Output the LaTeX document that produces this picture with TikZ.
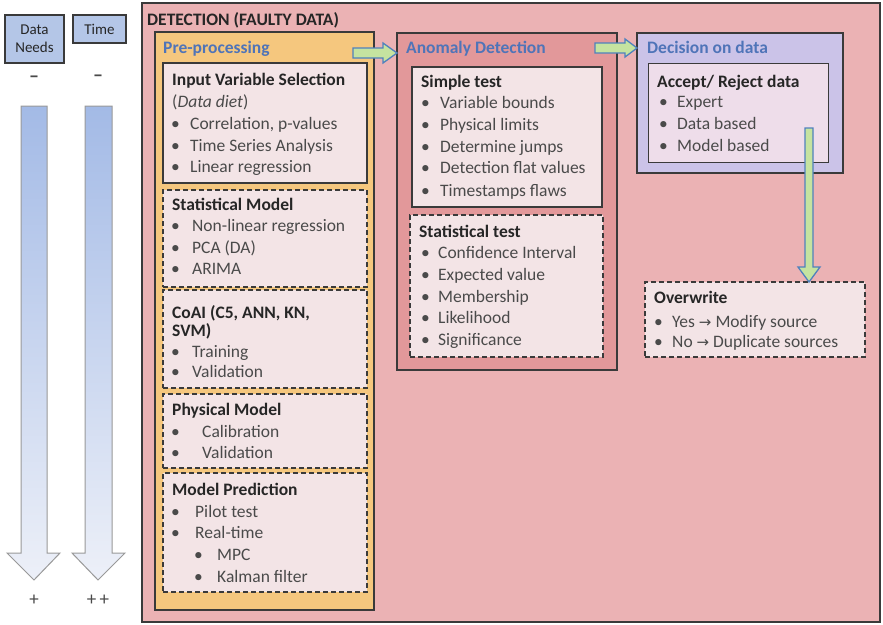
\documentclass[tikz,border=0pt]{standalone}
\usepackage{fontspec}
\setmainfont{Carlito}
\newfontfamily\arrowfont{DejaVu Sans}
\usetikzlibrary{calc}

\definecolor{edge}{HTML}{3A3A3A}
\definecolor{detfill}{HTML}{EBB2B4}
\definecolor{prefill}{HTML}{F5C77E}
\definecolor{anofill}{HTML}{E2989A}
\definecolor{decfill}{HTML}{CBC3E8}
\definecolor{accfill}{HTML}{EEDDEA}
\definecolor{paper}{HTML}{F3E4E6}
\definecolor{ink}{HTML}{262626}
\definecolor{body}{HTML}{4A4A4A}
\definecolor{titleblue}{HTML}{4F74B8}
\definecolor{lbox}{HTML}{B4C6E7}
\definecolor{ltop}{HTML}{A3BAE6}
\definecolor{lbot}{HTML}{EDF0F8}
\definecolor{gfill}{HTML}{C5E3A0}
\definecolor{gedge}{HTML}{4F81BD}

\tikzset{
  x=1pt, y=-1pt,
  box/.style={draw=edge, line width=1.3pt, anchor=north west, inner sep=0pt, outer sep=0pt},
  solidin/.style={box, fill=paper, line width=1.2pt},
  dashin/.style={box, fill=paper, line width=1.3pt, dash pattern=on 5pt off 3pt},
  txt/.style={anchor=base west, inner sep=0pt, yshift=-5.5pt,
    font=\fontsize{17.5}{21}\selectfont, text=body},
  hd/.style={txt, font=\fontsize{17.5}{21}\selectfont\bfseries, text=ink},
  bluehd/.style={txt, font=\fontsize{17.5}{21}\selectfont\bfseries, text=titleblue},
  sidetxt/.style={inner sep=0pt, font=\fontsize{15}{18}\selectfont, text=ink, align=center},
  signtxt/.style={inner sep=0pt, font=\fontsize{20}{20}\selectfont\bfseries, text=body},
  garrow/.style={draw=gedge, line width=1.3pt, fill=gfill, line join=miter},
  larrow/.style={draw=gray!80, line width=1pt, top color=ltop, bottom color=lbot}
}

% a bullet line: name, x, indent, y, text
\newcommand{\bitem}[5]{\node[txt] (#1) at (#2,#4) {\makebox[#3pt][l]{\textbullet}#5};}
\newcommand{\rarr}{{\arrowfont\fontsize{15}{18}\selectfont →}}

\begin{document}
\begin{tikzpicture}
\useasboundingbox (0,0) rectangle (883,624);
\fill[white] (0,0) rectangle (883,624);

% ---- left scales ----
\node[box, fill=lbox, line width=1.1pt, minimum width=59pt, minimum height=48pt] (dn) at (5,15) {};
\node[sidetxt] (dnt) at (dn.center) {Data\\Needs};
\node[box, fill=lbox, line width=1.1pt, minimum width=53pt, minimum height=28pt] (tm) at (73,15) {};
\node[sidetxt] (tmt) at (tm.center) {Time};
\node[signtxt] (dnm) at (34,79) {–};
\node[signtxt] (tmm) at (98,78) {–};
\draw[larrow] (21,106) -- (21,553) -- (7,553) -- (34,580) -- (60,553) -- (47,553) -- (47,106) -- cycle;
\draw[larrow] (85,106) -- (85,553) -- (72,553) -- (98,580) -- (125,553) -- (112,553) -- (112,106) -- cycle;
\node[signtxt, font=\fontsize{19}{20}\selectfont] (dnp) at (34,600) {+};
\node[signtxt, font=\fontsize{19}{20}\selectfont] (tmp) at (98,600) {+\,+};

% ---- detection frame ----
\node[box, fill=detfill, minimum width=738pt, minimum height=619pt] (det) at (142,3) {};
\node[hd] (dett) at (147,20) {DETECTION (FAULTY DATA)};

% ---- pre-processing ----
\node[box, fill=prefill, minimum width=219pt, minimum height=578pt] (pre) at (155,32) {};
\node[bluehd] (pret) at (163,48) {Pre-processing};

\node[solidin, minimum width=204pt, minimum height=120pt] (ivs) at (163,63) {};
\node[hd] (ivs0) at (172,80) {Input Variable Selection};
\node[txt] (ivs1) at (172,102) {(\textit{Data diet})};
\bitem{ivs2}{171}{19}{124}{Correlation, p-values}
\bitem{ivs3}{171}{19}{146}{Time Series Analysis}
\bitem{ivs4}{171}{19}{167}{Linear regression}

\node[dashin, minimum width=204pt, minimum height=97pt] (sm) at (163,190) {};
\node[hd] (sm0) at (172,205) {Statistical Model};
\bitem{sm1}{171}{21}{226}{Non-linear regression}
\bitem{sm2}{171}{21}{248}{PCA (DA)}
\bitem{sm3}{171}{21}{269}{ARIMA}

\node[dashin, minimum width=204pt, minimum height=98pt] (coai) at (163,290) {};
\node[hd] (coai0) at (172,313) {CoAI (C5, ANN, KN,};
\node[hd] (coai1) at (172,331) {SVM)};
\bitem{coai2}{171}{21}{352}{Training}
\bitem{coai3}{171}{21}{372}{Validation}

\node[dashin, minimum width=204pt, minimum height=74pt] (phys) at (163,394) {};
\node[hd] (phys0) at (172,410) {Physical Model};
\bitem{phys1}{171}{31}{432}{Calibration}
\bitem{phys2}{171}{31}{453}{Validation}

\node[dashin, minimum width=204pt, minimum height=119pt] (mp) at (163,473) {};
\node[hd] (mp0) at (172,490) {Model Prediction};
\bitem{mp1}{171}{24}{512}{Pilot test}
\bitem{mp2}{171}{24}{533}{Real-time}
\bitem{mp3}{194}{23}{555}{MPC}
\bitem{mp4}{194}{23}{577}{Kalman filter}

% ---- anomaly detection ----
\node[box, fill=anofill, minimum width=220pt, minimum height=337pt] (ano) at (397,33) {};
\node[bluehd] (anot) at (406,48) {Anomaly Detection};

\node[solidin, minimum width=190pt, minimum height=140pt] (st) at (412,67) {};
\node[hd] (st0) at (421,82) {Simple test};
\bitem{st1}{421}{19}{103}{Variable bounds}
\bitem{st2}{421}{19}{125}{Physical limits}
\bitem{st3}{421}{19}{147}{Determine jumps}
\bitem{st4}{421}{19}{168}{Detection flat values}
\bitem{st5}{421}{19}{191}{Timestamps flaws}

\node[dashin, minimum width=193pt, minimum height=142pt] (stt) at (410,215) {};
\node[hd] (stt0) at (419,232) {Statistical test};
\bitem{stt1}{421}{17}{253}{Confidence Interval}
\bitem{stt2}{421}{17}{275}{Expected value}
\bitem{stt3}{421}{17}{297}{Membership}
\bitem{stt4}{421}{17}{318}{Likelihood}
\bitem{stt5}{421}{17}{340}{Significance}

% ---- decision on data ----
\node[box, fill=decfill, minimum width=206pt, minimum height=140pt] (dec) at (637,33) {};
\node[bluehd] (dect) at (647,48) {Decision on data};
\node[solidin, fill=accfill, line width=1pt, minimum width=180pt, minimum height=99pt] (acc) at (648,63) {};
\node[hd] (acc0) at (657,82) {Accept/ Reject data};
\bitem{acc1}{659}{18}{102}{Expert}
\bitem{acc2}{659}{18}{124}{Data based}
\bitem{acc3}{659}{18}{146}{Model based}

\node[dashin, minimum width=220pt, minimum height=75pt] (ow) at (645,282) {};
\node[hd] (ow0) at (654,298) {Overwrite};
\bitem{ow1}{654}{18}{322}{Yes \rarr{} Modify source}
\bitem{ow2}{654}{18}{342}{No \rarr{} Duplicate sources}

% ---- flow arrows ----
\coordinate (g1s) at (353,53);
\coordinate (g1e) at (ano.west |- g1s);
\draw[garrow] ($(g1s)+(0,-5)$) -- ($(g1e)+(-14,-5)$) -- ($(g1e)+(-14,-10)$) -- (g1e)
  -- ($(g1e)+(-14,10)$) -- ($(g1e)+(-14,5)$) -- ($(g1s)+(0,5)$) -- cycle;

\coordinate (g2s) at (595,48);
\coordinate (g2e) at (dec.west |- g2s);
\draw[garrow] ($(g2s)+(0,-5)$) -- ($(g2e)+(-12,-5)$) -- ($(g2e)+(-12,-9)$) -- (g2e)
  -- ($(g2e)+(-12,9)$) -- ($(g2e)+(-12,5)$) -- ($(g2s)+(0,5)$) -- cycle;

\coordinate (vs) at (809,128);
\coordinate (ve) at (vs |- ow.north);
\draw[garrow] ($(vs)+(-4,0)$) -- ($(ve)+(-4,-15)$) -- ($(ve)+(-11,-15)$) -- (ve)
  -- ($(ve)+(11,-15)$) -- ($(ve)+(4,-15)$) -- ($(vs)+(4,0)$) -- cycle;
\end{tikzpicture}
\end{document}
